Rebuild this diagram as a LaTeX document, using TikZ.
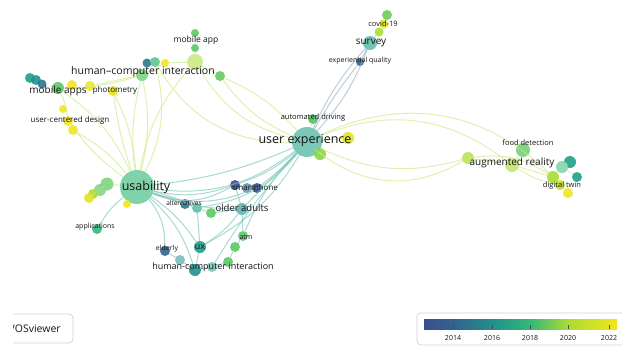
\documentclass[tikz,border=0pt]{standalone}
\usepackage{fontspec}
\setmainfont{Open Sans}
\usepackage{tikz}
\usetikzlibrary{positioning}

\definecolor{yr13}{HTML}{3B4F8E}
\definecolor{yr14}{HTML}{33628D}
\definecolor{yr15}{HTML}{2A788E}
\definecolor{yr16}{HTML}{21908C}
\definecolor{yr17}{HTML}{1FA187}
\definecolor{yr18}{HTML}{35B779}
\definecolor{yr19}{HTML}{5DC863}
\definecolor{yr20}{HTML}{AADC32}
\definecolor{yr22}{HTML}{F2E51D}

\begin{document}
\begin{tikzpicture}[x=1pt,y=-1pt,
    ele/.style={circle,inner sep=0pt,minimum size=#1,fill opacity=.9},
    lbl/.style={inner sep=0pt,text=black!92,font=\fontsize{#1}{#1}\selectfont},
    lnk/.style={line width=1pt,draw=#1,draw opacity=.65},
    boxline/.style={draw=gray!35,line width=.8pt,rounded corners=4pt}]
\useasboundingbox (0,0) rectangle (622,346);

% hubs
\node[ele=34pt,fill=yr18!70!white] (us) at (137,187) {};
\node[ele=30pt,fill=yr17!65!white] (ue) at (307,142) {};

% usability cluster
\node[ele=13pt,fill=yr19!80!white] (u1) at (107,184) {};
\node[ele=12pt,fill=yr19!75!white] (u2) at (100,190) {};
\node[ele=10pt,fill=yr20] (u3) at (93,194) {};
\node[ele=10pt,fill=yr22!80!yr20] (u4) at (89,198) {};
\node[ele=8pt,fill=yr22] (u5) at (127,204) {};
\node[ele=10pt,fill=yr18] (app) at (97,229) {};

% top left
\node[ele=10pt,fill=yr17] (ma1) at (30,78) {};
\node[ele=10pt,fill=yr16] (ma2) at (36,80) {};
\node[ele=9pt,fill=yr15] (ma3) at (42,84) {};
\node[ele=12pt,fill=yr19] (ma4) at (58,88) {};
\node[ele=10pt,fill=yr22] (ma5) at (72,85) {};
\node[ele=10pt,fill=yr22] (ma6) at (90,86) {};
\node[ele=10pt,fill=yr22!85!yr20] (pm) at (113,91) {};
\node[ele=8pt,fill=yr22] (uc1) at (63,109) {};
\node[ele=10pt,fill=yr22] (uc2) at (68,121) {};
\node[ele=10pt,fill=yr22] (uc3) at (73,130) {};

% top hci
\node[ele=12pt,fill=yr19!80!white] (h1) at (142,75) {};
\node[ele=9pt,fill=yr15] (h2) at (147,63) {};
\node[ele=10pt,fill=yr18!80!white] (h3) at (155,62) {};
\node[ele=8pt,fill=yr22] (h4) at (165,63) {};
\node[ele=8pt,fill=yr19] (mp1) at (195,33) {};
\node[ele=8pt,fill=yr19] (mp2) at (195,48) {};
\node[ele=16pt,fill=yr20!60!white] (mp3) at (195,62) {};
\node[ele=10pt,fill=yr19!90!yr20] (h5) at (220,76) {};

% user experience satellites
\node[ele=10pt,fill=yr19!70!yr18] (ad) at (313,119) {};
\node[ele=12pt,fill=yr22!70!yr20] (uy) at (348,138) {};
\node[ele=12pt,fill=yr20!60!yr19] (ug) at (320,154) {};

% survey
\node[ele=14pt,fill=yr17!70!white] (sv) at (370,43) {};
\node[ele=10pt,fill=yr19!80!yr20] (cv1) at (387,15) {};
\node[ele=9pt,fill=yr22!80!yr20] (cv2) at (384,24) {};
\node[ele=9pt,fill=yr20] (cv3) at (379,32) {};
\node[ele=8pt,fill=yr14] (eq) at (360,62) {};

% augmented reality
\node[ele=12pt,fill=yr20!80!white] (ar0) at (468,158) {};
\node[ele=14pt,fill=yr20!70!white] (ar) at (512,165) {};
\node[ele=14pt,fill=yr19!85!white] (fd) at (523,150) {};
\node[ele=12pt,fill=yr17] (dt1) at (570,162) {};
\node[ele=12pt,fill=yr18!60!white] (dt2) at (562,167) {};
\node[ele=10pt,fill=yr17] (dt3) at (577,177) {};
\node[ele=12pt,fill=yr20] (dt4) at (553,177) {};
\node[ele=10pt,fill=yr20!70!yr22] (dt5) at (560,185) {};
\node[ele=10pt,fill=yr22] (dt6) at (568,193) {};

% lower middle
\node[ele=10pt,fill=yr15] (al1) at (185,204) {};
\node[ele=10pt,fill=yr17!70!white] (al2) at (197,208) {};
\node[ele=10pt,fill=yr19] (al3) at (211,213) {};
\node[ele=10pt,fill=yr13] (sp1) at (235,185) {};
\node[ele=10pt,fill=yr14!70!white] (sp2) at (247,188) {};
\node[ele=10pt,fill=yr13] (sp3) at (257,188) {};
\node[ele=12pt,fill=yr16!70!white] (oa) at (242,209) {};
\node[ele=10pt,fill=yr19] (at1) at (243,236) {};
\node[ele=10pt,fill=yr19] (at2) at (235,247) {};
\node[ele=10pt,fill=yr19] (at3) at (228,262) {};
\node[ele=12pt,fill=yr17] (ux) at (200,247) {};
\node[ele=10pt,fill=yr14] (el) at (165,251) {};
\node[ele=10pt,fill=yr16!60!white] (hc1) at (180,260) {};
\node[ele=12pt,fill=yr16] (hc2) at (195,270) {};
\node[ele=10pt,fill=yr17!60!white] (hc3) at (212,267) {};

% links
\foreach \a/\b/\c in {us/h1/10,us/h1/-12,us/h3/-20,us/pm/5,us/pm/-10,us/ma4/-15,us/uc3/-10,us/uc2/8,
    us/mp3/15,ma4/h1/-8,ma4/uc2/10,ma6/h1/0,mp3/h5/0,h4/mp3/0,h1/h4/0,mp2/mp3/0,mp1/mp2/0,
    h5/ue/-15,h5/ue/12,mp3/ue/-22,h3/ue/-30,ue/ad/0,ue/uy/0,ue/ug/0,
    ue/ar0/-20,ue/ar0/-35,ue/ar/30,ue/dt4/35,ar0/ar/0,ar0/dt4/20,ar/fd/0,ar/dt4/0,ar/dt5/-10,
    dt4/dt2/0,dt2/dt1/0,dt2/dt3/0,dt4/dt5/0,dt5/dt6/0,u1/us/0,u2/u1/0,u3/u2/0,u4/u3/0,u5/us/0}
  \draw[lnk=yr20!60!white] (\a) to[bend left=\c] (\b);
\foreach \a/\b/\c in {us/ue/-22,us/ue/-8,us/sp1/-15,us/sp3/-20,us/oa/-10,us/al1/0,us/al2/5,
    us/ux/10,us/el/20,us/app/-10,us/hc2/15,ue/sp1/10,ue/sp3/5,ue/oa/0,ue/at1/-10,ue/ux/15,
    ue/hc3/-5,ue/al2/20,oa/at1/0,at1/at2/0,at2/at3/0,at3/hc3/0,ux/hc2/0,el/hc1/0,hc1/hc2/0,
    hc2/hc3/0,ux/al2/0,sp1/oa/0,al3/oa/0,al1/al2/0,al2/al3/0,sp1/sp2/0,sp2/sp3/0,ux/oa/-10}
  \draw[lnk=yr17!60!white] (\a) to[bend left=\c] (\b);
\foreach \a/\b/\c in {ue/sv/-10,ue/sv/8,ue/eq/4,sv/eq/0,sv/cv3/0,cv3/cv2/0,cv2/cv1/0,us/sp1/-25}
  \draw[lnk=yr14!50!white] (\a) to[bend left=\c] (\b);

% labels
\node[lbl=12.5] (t-us) at (146,187) {usability};
\node[lbl=12.5] (t-ue) at (305,140) {user experience};
\node[lbl=10] (t-ar) at (512,163) {augmented reality};
\node[lbl=7.5] (t-fd) at (528,143) {food detection};
\node[lbl=7.5] (t-dt) at (562,186) {digital twin};
\node[lbl=10] (t-sv) at (371,43) {survey};
\node[lbl=7.5] (t-cv) at (383,24) {covid-19};
\node[lbl=7] (t-eq) at (360,61) {experiential quality};
\node[lbl=7.5] (t-ad) at (313,118) {automated driving};
\node[lbl=8.5] (t-mp) at (196,40) {mobile app};
\node[lbl=10.5] (t-h1) at (143,72) {human–computer interaction};
\node[lbl=10] (t-ma) at (58,91) {mobile apps};
\node[lbl=8] (t-pm) at (115,90) {photometry};
\node[lbl=8] (t-uc) at (70,120) {user-centered design};
\node[lbl=7] (t-app) at (95,227) {applications};
\node[lbl=6.5] (t-al) at (184,203) {alternatives};
\node[lbl=8] (t-sp) at (255,188) {smartphone};
\node[lbl=9.5] (t-oa) at (242,208) {older adults};
\node[lbl=7] (t-at) at (246,237) {atm};
\node[lbl=9] (t-ux) at (200,247) {ux};
\node[lbl=7] (t-el) at (167,249) {elderly};
\node[lbl=9] (t-hc) at (213,267) {human-computer interaction};

% viewer box
\begin{scope}
  \clip (13,300) rectangle (100,346);
  \draw[boxline] (0,314) rectangle (73,343);
  \node[lbl=10.5,anchor=west] (vos) at (8.5,329) {VOSviewer};
\end{scope}

% legend
\draw[boxline] (417,313) rectangle (640,345);
\shade[left color=yr13,right color=yr14] (424,319) rectangle (453,329);
\shade[left color=yr14,right color=yr16] (453,319) rectangle (492,329);
\shade[left color=yr16,right color=yr18] (492,319) rectangle (530,329);
\shade[left color=yr18,right color=yr20] (530,319) rectangle (568,329);
\shade[left color=yr20,right color=yr22] (568,319) rectangle (617,329);
\foreach \yr/\xx in {2014/453,2016/492,2018/530,2020/568,2022/609} {
  \draw[gray!60!black,line width=.5pt] (\xx,325) -- (\xx,329);
  \node[lbl=7] (y\yr) at (\xx,338) {\yr};
}
\end{tikzpicture}
\end{document}
